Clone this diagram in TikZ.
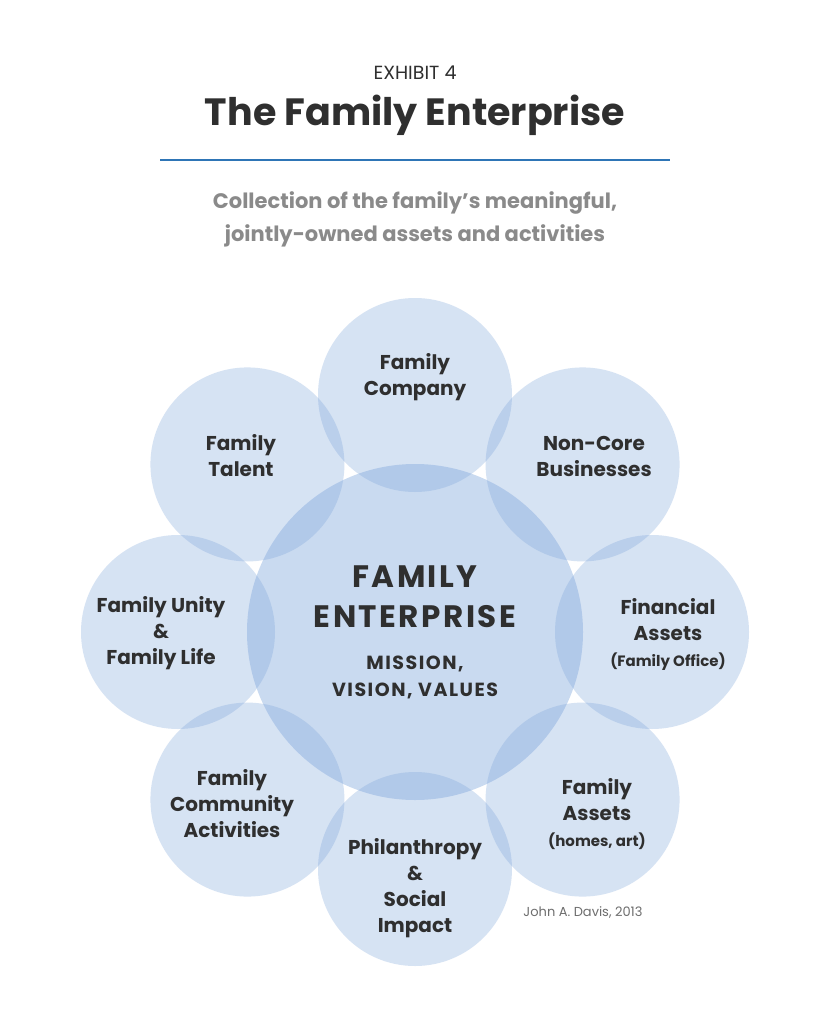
\documentclass[tikz,border=0pt]{standalone}
\usepackage{fontspec}
\setmainfont{Poppins}
\usetikzlibrary{calc}
\definecolor{circ}{HTML}{7AA3DA}
\definecolor{txt}{HTML}{2F2F2F}
\definecolor{sub}{HTML}{8A8A8A}
\definecolor{rule}{HTML}{2E75B6}
\begin{document}
\begin{tikzpicture}[x=1pt,y=-1pt,
  outer/.style={circle,minimum size=194pt,inner sep=0pt,fill=circ,fill opacity=0.3,text opacity=1},
  lab/.style={align=center,font=\fontsize{20}{26}\selectfont\bfseries,text=txt},
  small/.style={font=\fontsize{15}{20}\selectfont\bfseries}]
\useasboundingbox (0,0) rectangle (830,1024);
\fill[white] (0,0) rectangle (830,1024);
\node[text=txt,font=\fontsize{19}{22}\selectfont] (ex) at (415,73) {EXHIBIT 4};
\node[text=txt,font=\fontsize{38}{44}\selectfont\bfseries] (title) at (415,115) {The Family Enterprise};
\coordinate (l1) at (160,160); \coordinate (l2) at (670,160);
\draw[rule,line width=2pt] (l1) -- (l2);
\node[text=sub,align=center,font=\fontsize{21}{33}\selectfont\bfseries] (sub) at (415,219) {Collection of the family's meaningful,\\jointly-owned assets and activities};
\node[circle,minimum size=336pt,inner sep=0pt,fill=circ,fill opacity=0.4] (c) at (415,632) {};
\foreach \n/\a in {o1/90,o2/45,o3/0,o4/-45,o5/-90,o6/-135,o7/180,o8/135}
  \node[outer] (\n) at ($(415,632)+(\a:237 and 237)$) {};
\node[lab] (t1) at (415,377) {Family\\Company};
\node[lab] (t2) at (594,456) {Non-Core\\Businesses};
\node[lab] (t3) at (668,634) {Financial\\Assets\\{\fontsize{15}{20}\selectfont (Family Office)}};
\node[lab] (t4) at (597,814) {Family\\Assets\\{\fontsize{15}{20}\selectfont (homes, art)}};
\node[lab] (t5) at (415,888) {Philanthropy\\\&\\Social\\Impact};
\node[lab] (t6) at (232,804) {Family\\Community\\Activities};
\node[lab] (t7) at (161,633) {Family Unity\\\&\\Family Life};
\node[lab] (t8) at (241,456) {Family\\Talent};
\node[align=center,text=txt,font=\fontsize{31}{40}\selectfont\bfseries] (ct) at (415,597) {\addfontfeature{LetterSpace=8}FAMILY\\\addfontfeature{LetterSpace=8}ENTERPRISE};
\node[align=center,text=txt,font=\fontsize{19}{27}\selectfont\bfseries] (cs) at (415,677) {\addfontfeature{LetterSpace=8}MISSION,\\\addfontfeature{LetterSpace=8}VISION, VALUES};
\node[text=sub!80!black,font=\fontsize{13}{16}\selectfont] (cr) at (583,912) {John A. Davis, 2013};
\end{tikzpicture}
\end{document}
